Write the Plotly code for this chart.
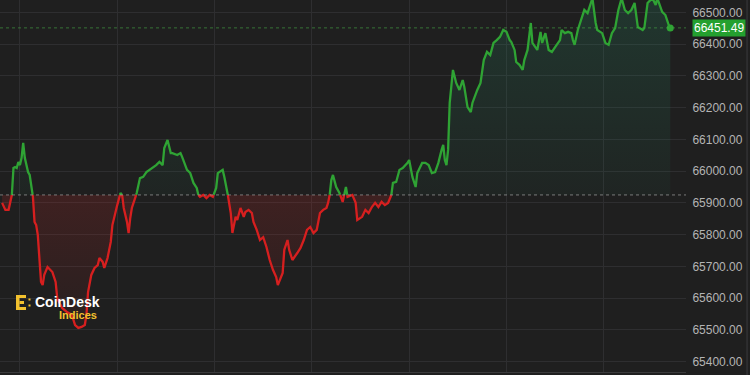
import plotly.graph_objects as go
import pandas as pd

# ---- data ----
minutes = [49, 51, 53, 54, 55, 56, 57, 58, 59, 60, 61, 62, 63, 64, 65, 66, 67, 68, 69, 70,
           71, 72, 73, 74, 75, 77, 80, 82, 83, 86, 89, 92, 94, 96, 98, 100, 101, 102, 104, 106,
           108, 109, 111, 112, 114, 116, 117, 120, 122, 123, 124, 126, 127, 128, 129, 131, 132, 134, 136, 138,
           140, 142, 144, 146, 148, 149, 151, 153, 154, 157, 159, 160, 163, 165, 167, 169, 170, 171, 173, 175,
           177, 179, 181, 182, 185, 186, 187, 188, 190, 191, 192, 193, 194, 196, 198, 199, 201, 203, 204, 206,
           208, 210, 212, 214, 216, 218, 219, 222, 223, 225, 226, 228, 231, 233, 235, 237, 239, 241, 243, 245,
           247, 249, 250, 251, 252, 253, 255, 257, 259, 261, 262, 265, 267, 268, 271, 273, 275, 277, 279, 281,
           283, 285, 287, 289, 290, 292, 294, 296, 299, 300, 302, 304, 305, 308, 310, 312, 314, 316, 318, 320,
           321, 322, 323, 324, 325, 327, 329, 331, 333, 334, 336, 338, 339, 342, 344, 346, 348, 350, 352, 354,
           356, 358, 360, 362, 363, 365, 366, 368, 370, 371, 373, 375, 376, 379, 381, 382, 384, 386, 388, 390,
           393, 394, 396, 398, 400, 401, 402, 404, 407, 408, 410, 413, 415, 416, 419, 421, 423, 425, 427, 429,
           431, 433, 435, 437, 439, 441, 444, 445, 447, 450, 452, 453, 456, 458, 460, 461]
prices = [65900, 65878, 65878, 65900, 65925, 66010, 66013, 66010, 66029, 66019, 66042, 66089, 66042, 66019, 65997, 65988, 65956, 65919, 65840, 65830,
          65799, 65704, 65651, 65641, 65673, 65698, 65682, 65651, 65600, 65569, 65556, 65547, 65515, 65506, 65509, 65515, 65547, 65619, 65673, 65695,
          65704, 65726, 65714, 65695, 65726, 65777, 65830, 65893, 65931, 65925, 65884, 65840, 65805, 65852, 65884, 65915, 65931, 65978, 65982, 65997,
          66004, 66013, 66019, 66029, 66019, 66073, 66098, 66057, 66057, 66051, 66057, 66045, 66004, 65994, 65963, 65947, 65925, 65919, 65925, 65915,
          65925, 65919, 65947, 65994, 66004, 65982, 65950, 65931, 65868, 65805, 65837, 65856, 65846, 65884, 65856, 65871, 65878, 65868, 65840, 65815,
          65783, 65792, 65761, 65720, 65689, 65666, 65641, 65679, 65752, 65783, 65752, 65720, 65742, 65758, 65783, 65815, 65824, 65805, 65815, 65868,
          65878, 65884, 65900, 65925, 65972, 65988, 65950, 65931, 65903, 65950, 65919, 65925, 65900, 65846, 65856, 65878, 65868, 65887, 65900, 65887,
          65903, 65893, 65900, 65925, 65963, 65966, 66004, 66010, 66026, 66035, 65982, 65950, 65994, 66026, 66026, 66019, 65994, 65997, 66026, 66067,
          66083, 66035, 66019, 66067, 66215, 66319, 66278, 66256, 66287, 66265, 66202, 66186, 66215, 66256, 66278, 66350, 66376, 66366, 66404, 66413,
          66423, 66445, 66439, 66413, 66407, 66382, 66344, 66335, 66319, 66350, 66382, 66467, 66404, 66382, 66439, 66404, 66435, 66382, 66376, 66391,
          66413, 66445, 66435, 66439, 66435, 66413, 66398, 66445, 66498, 66508, 66498, 66545, 66467, 66445, 66435, 66404, 66398, 66435, 66451, 66508,
          66545, 66508, 66498, 66508, 66530, 66454, 66445, 66451, 66530, 66545, 66524, 66545, 66502, 66492, 66461, 66451.49]
base_price = 65925
last_price = 66451.49
y_ticks = list(range(65400, 66501, 100))

day = pd.Timestamp("2024-06-04")

# ---- split the series at the baseline (crossings interpolated) ----
mx, my = [], []
for i, (m, p) in enumerate(zip(minutes, prices)):
    if i > 0:
        m0, p0 = minutes[i - 1], prices[i - 1]
        if (p0 - base_price) * (p - base_price) < 0:
            mc = m0 + (base_price - p0) * (m - m0) / (p - p0)
            mx.append(mc)
            my.append(base_price)
    mx.append(m)
    my.append(p)

tx = [day + pd.Timedelta(minutes=v) for v in mx]
up_line = [v if v >= base_price else None for v in my]
dn_line = [v if v <= base_price else None for v in my]
up_fill = [max(v, base_price) for v in my]
dn_fill = [min(v, base_price) for v in my]
base_line = [base_price] * len(my)

GREEN = "#2fa334"
RED = "#d61f1f"
BG = "#1f1f1f"
GRID = "#2e2e30"

fig = go.Figure()
fig.add_trace(go.Scatter(x=tx, y=base_line, mode="lines", line=dict(width=0), hoverinfo="skip"))
fig.add_trace(go.Scatter(x=tx, y=up_fill, mode="lines", line=dict(width=0), fill="tonexty",
                         fillgradient=dict(type="vertical", start=base_price, stop=66540,
                                           colorscale=[[0, "rgba(40,150,110,0.05)"], [1, "rgba(40,150,110,0.2)"]]),
                         hoverinfo="skip"))
fig.add_trace(go.Scatter(x=tx, y=base_line, mode="lines", line=dict(width=0), hoverinfo="skip"))
fig.add_trace(go.Scatter(x=tx, y=dn_fill, mode="lines", line=dict(width=0), fill="tonexty",
                         fillgradient=dict(type="vertical", start=65500, stop=base_price,
                                           colorscale=[[0, "rgba(190,40,40,0.05)"], [1, "rgba(190,40,40,0.2)"]]),
                         hoverinfo="skip"))
fig.add_trace(go.Scatter(x=tx, y=up_line, mode="lines", line=dict(color=GREEN, width=2.3), connectgaps=False))
fig.add_trace(go.Scatter(x=tx, y=dn_line, mode="lines", line=dict(color=RED, width=2.3), connectgaps=False))
fig.add_trace(go.Scatter(x=[day + pd.Timedelta(minutes=minutes[-1])], y=[last_price], mode="markers",
                         marker=dict(color=GREEN, size=7)))

# baseline and last price dotted lines
fig.add_shape(type="line", xref="paper", x0=0, x1=1, yref="y", y0=base_price, y1=base_price,
              line=dict(color="rgba(160,160,160,0.7)", width=1, dash="dot"))
fig.add_shape(type="line", xref="paper", x0=0, x1=1, yref="y", y0=last_price, y1=last_price,
              line=dict(color="rgba(70,170,70,0.6)", width=1, dash="dot"))
# right border
fig.add_shape(type="line", xref="paper", x0=1.089, x1=1.089, yref="paper", y0=-0.01, y1=1,
              line=dict(color="#3a3a3c", width=1))

# last price badge
fig.add_annotation(xref="paper", x=1, xanchor="left", xshift=6, yref="y", y=last_price,
                   text="66451.49", showarrow=False, bgcolor="#24a02f", borderpad=1,
                   font=dict(color="white", size=12, family="Liberation Sans"))

# CoinDesk Indices logo
PW, PH = 686.0, 372.0
def px(x):
    return x / PW
def py(y):
    return 1 - y / PH
YEL = "#f2c12e"
for (x0, y0, x1, y1) in [(16, 295, 19.5, 310), (16, 295, 26, 298), (19.5, 301, 24, 304),
                         (16, 307, 26, 310), (28.5, 298.5, 30.5, 300.5), (28.5, 304.5, 30.5, 306.5)]:
    fig.add_shape(type="rect", xref="paper", yref="paper", x0=px(x0), x1=px(x1), y0=py(y1), y1=py(y0),
                  fillcolor=YEL, line=dict(width=0))
fig.add_annotation(xref="paper", yref="paper", x=px(33), y=py(302), xanchor="left", yanchor="middle",
                   text="<b>CoinDesk</b>", showarrow=False,
                   font=dict(color="white", size=14, family="Liberation Sans"))
fig.add_annotation(xref="paper", yref="paper", x=px(99), y=py(315), xanchor="right", yanchor="middle",
                   text="<b>Indices</b>", showarrow=False,
                   font=dict(color=YEL, size=11, family="Liberation Sans"))

fig.update_layout(
    width=750, height=375,
    margin=dict(l=0, r=64, t=0, b=3),
    paper_bgcolor=BG, plot_bgcolor=BG,
    showlegend=False,
    xaxis=dict(type="date", range=[day + pd.Timedelta(minutes=47.7), day + pd.Timedelta(minutes=470.7)],
               showgrid=True, gridcolor=GRID, dtick=3600000, tick0=day, showticklabels=False,
               zeroline=False, showline=True, linecolor="#3a3a3c", fixedrange=True),
    yaxis=dict(side="right", range=[65367, 66539.4], tickvals=y_ticks,
               ticktext=[f"{v:.2f}" for v in y_ticks], showgrid=True, gridcolor=GRID,
               zeroline=False, ticks="outside", ticklen=3, tickcolor="rgba(0,0,0,0)",
               tickfont=dict(color="#b4b4b4", size=12, family="Liberation Sans")),
)

fig.write_html("out.html")
